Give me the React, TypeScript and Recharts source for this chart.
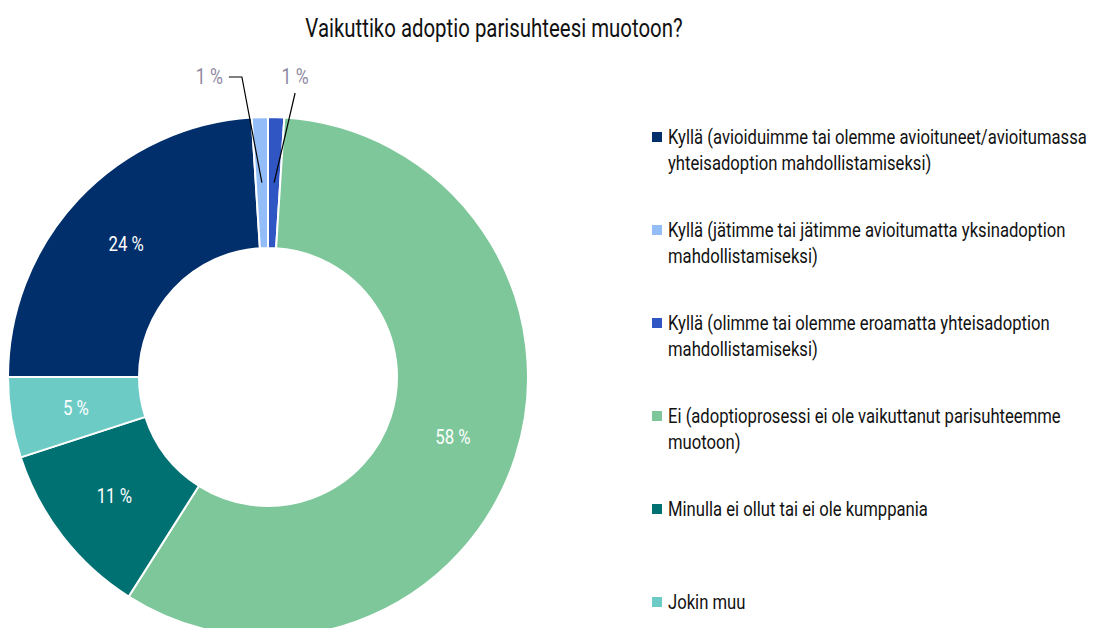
import { PieChart, Pie, Cell, Legend } from 'recharts'

const FONT = "Roboto, 'Noto Sans', sans-serif"
const SQUEEZE = 0.8 // the original face is a condensed one

const legendLines = [
  ['Kyllä (avioiduimme tai olemme avioituneet/avioitumassa', 'yhteisadoption mahdollistamiseksi)'],
  ['Kyllä (jätimme tai jätimme avioitumatta yksinadoption', 'mahdollistamiseksi)'],
  ['Kyllä (olimme tai olemme eroamatta yhteisadoption', 'mahdollistamiseksi)'],
  ['Ei (adoptioprosessi ei ole vaikuttanut parisuhteemme', 'muotoon)'],
  ['Minulla ei ollut tai ei ole kumppania'],
  ['Jokin muu'],
]
const categories = legendLines.map((l) => l.join(' '))
const shares = [24, 1, 1, 58, 11, 5]
const colors = ['#002f6b', '#92bdf6', '#2f56c2', '#7dc79a', '#007173', '#6dcbc6']

const data = categories.map((name, i) => ({ name, value: shares[i] }))

const RADIAN = Math.PI / 180

const Squeezed = ({ x, y, anchor, fill, size, children }: any) => (
  <text
    transform={`translate(${x},${y}) scale(${SQUEEZE},1)`}
    fill={fill}
    fontSize={size}
    fontFamily={FONT}
    textAnchor={anchor}
    dominantBaseline="central"
  >
    {children}
  </text>
)

const renderLabel = (props: any) => {
  const { cx, cy, midAngle, innerRadius, outerRadius, value } = props
  const r = (innerRadius + outerRadius) / 2
  const x = cx + r * Math.cos(-midAngle * RADIAN)
  const y = cy + r * Math.sin(-midAngle * RADIAN)
  const text = `${value} %`
  if (value >= 3) {
    return <Squeezed x={x} y={y} anchor="middle" fill="#fff" size={21}>{text}</Squeezed>
  }
  // small slices: leader line up above the ring
  const topY = cy - outerRadius - 40
  if (midAngle > 90) {
    const ex = x - 20
    return (
      <g>
        <polyline points={`${x},${y} ${ex},${topY} ${ex - 13},${topY}`} fill="none" stroke="#000" strokeWidth={1.2} />
        <Squeezed x={ex - 19} y={topY} anchor="end" fill="#8f8aa3" size={22}>{text}</Squeezed>
      </g>
    )
  }
  const ex = x + 21
  return (
    <g>
      <polyline points={`${x},${y} ${ex},${topY + 16}`} fill="none" stroke="#000" strokeWidth={1.2} />
      <Squeezed x={ex} y={topY} anchor="middle" fill="#8f8aa3" size={22}>{text}</Squeezed>
    </g>
  )
}

const renderLegend = () => (
  <div style={{ fontFamily: FONT, fontSize: 20.8, color: '#111', width: 440 }}>
    {legendLines.map((lines, i) => (
      <div key={i} style={{ height: 93, display: 'flex', alignItems: 'flex-start' }}>
        <span
          style={{
            display: 'inline-block',
            width: 10,
            height: 10,
            background: colors[i],
            marginTop: 8,
            marginRight: 6,
            flexShrink: 0,
          }}
        />
        <div>
          {lines.map((line) => (
            <div
              key={line}
              style={{
                lineHeight: '26px',
                whiteSpace: 'nowrap',
                transform: `scaleX(${SQUEEZE})`,
                transformOrigin: 'left center',
              }}
            >
              {line}
            </div>
          ))}
        </div>
      </div>
    ))}
  </div>
)

export default function App() {
  return (
    <div style={{ position: 'relative', width: 1088, height: 620, overflow: 'hidden', background: '#fff' }}>
      <div
        style={{
          position: 'absolute',
          top: 5,
          left: 0,
          width: 972,
          textAlign: 'center',
          fontFamily: FONT,
          fontSize: 25.5,
          color: '#111',
          transform: `scaleX(${SQUEEZE})`,
          transformOrigin: '486px 0',
        }}
      >
        Vaikuttiko adoptio parisuhteesi muotoon?
      </div>
      <PieChart width={1088} height={640} margin={{ top: 0, right: 0, bottom: 0, left: 0 }}>
        <Pie
          data={data}
          dataKey="value"
          nameKey="name"
          cx={260}
          cy={369}
          innerRadius={129}
          outerRadius={260}
          startAngle={180}
          endAngle={-180}
          stroke="#fff"
          strokeWidth={2}
          label={renderLabel}
          labelLine={false}
          isAnimationActive={false}
        >
          {data.map((d, i) => (
            <Cell key={d.name} fill={colors[i]} />
          ))}
        </Pie>
        <Legend
          layout="vertical"
          verticalAlign="top"
          align="right"
          content={renderLegend}
          wrapperStyle={{ position: 'absolute', left: 644, top: 116, width: 440 }}
        />
      </PieChart>
    </div>
  )
}
